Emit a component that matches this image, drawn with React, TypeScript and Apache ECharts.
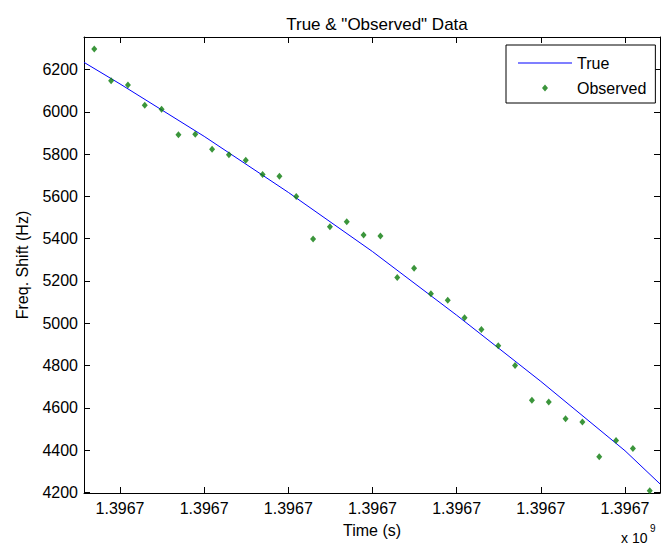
import React, { useEffect, useRef } from "react";
import * as echarts from "echarts";

const FONT = "'Liberation Sans', Arial, Helvetica, sans-serif";

const titleText = 'True & "Observed" Data';
const xName = "Time (s)";
const yName = "Freq. Shift (Hz)";
const seriesNames = ["True", "Observed"];
const exponentBase = "x 10";
const exponentPower = "9";

const xMin = 1396700572;
const xMax = 1396707416;
const xTicks = [1396701000, 1396702000, 1396703000, 1396704000, 1396705000, 1396706000, 1396707000];
const yMin = 4197;
const yMax = 6354;
const yTicks = [4200, 4400, 4600, 4800, 5000, 5200, 5400, 5600, 5800, 6000, 6200];

const trueTimes = [1396700572, 1396701000, 1396702000, 1396703000, 1396704000, 1396705000, 1396706000, 1396707000, 1396707416];
const trueValues = [6234, 6132, 5884, 5619, 5339, 5038, 4725, 4397, 4240];

const obsTimes = [
  1396700694, 1396700894, 1396701094, 1396701294, 1396701494, 1396701694, 1396701894,
  1396702094, 1396702294, 1396702494, 1396702694, 1396702894, 1396703094, 1396703294,
  1396703494, 1396703694, 1396703894, 1396704094, 1396704294, 1396704494, 1396704694,
  1396704894, 1396705094, 1396705294, 1396705494, 1396705694, 1396705894, 1396706094,
  1396706294, 1396706494, 1396706694, 1396706894, 1396707094, 1396707294,
];
const obsValues = [
  6297, 6147, 6127, 6031, 6012, 5892, 5894, 5823, 5797, 5771, 5703, 5695, 5600, 5399,
  5457, 5480, 5417, 5413, 5216, 5260, 5139, 5109, 5026, 4970, 4894, 4800, 4636, 4628,
  4548, 4533, 4369, 4445, 4407, 4208,
];

const AXIS_COLOR = "#000";
const LINE_COLOR = "#0000ff";
const MARK_COLOR = "#0a7a0a";

export default function App() {
  const ref = useRef<HTMLDivElement>(null);
  useEffect(() => {
    if (!ref.current) return;
    const chart = echarts.init(ref.current, null, { renderer: "svg" });
    const fmtX = (v: number) => (v / 1e9).toFixed(4);
    const fmtY = (v: number) => String(v);
    const baseX = {
      type: "value",
      min: xMin,
      max: xMax,
      splitLine: { show: false },
      axisLine: { show: true, onZero: false, lineStyle: { color: AXIS_COLOR, width: 1 } },
      axisTick: { show: true, inside: true, length: 6, customValues: xTicks, lineStyle: { color: AXIS_COLOR } },
    };
    const baseY = {
      type: "value",
      min: yMin,
      max: yMax,
      splitLine: { show: false },
      axisLine: { show: true, onZero: false, lineStyle: { color: AXIS_COLOR, width: 1 } },
      axisTick: { show: true, inside: true, length: 6, customValues: yTicks, lineStyle: { color: AXIS_COLOR } },
    };
    chart.setOption({
      animation: false,
      backgroundColor: "#fff",
      textStyle: { fontFamily: FONT },
      title: {
        text: titleText,
        left: 372,
        top: 11,
        textAlign: "center",
        textStyle: { fontSize: 17, fontWeight: "normal", color: "#000", fontFamily: FONT },
      },
      grid: { left: 84, right: 5, top: 37, bottom: 55, containLabel: false },
      legend: {
        orient: "vertical",
        left: 506,
        top: 45,
        data: [
          {
            name: seriesNames[0],
            icon: "path://M0,3L54,3L54,4L0,4Z",
            itemStyle: { color: LINE_COLOR },
          },
          {
            name: seriesNames[1],
            icon: "path://M27,0L30,3.5L27,7L24,3.5Z M0,3.5L0.01,3.5 M54,3.5L53.99,3.5",
            itemStyle: { color: MARK_COLOR },
          },
        ],
        itemWidth: 54,
        itemHeight: 7,
        itemGap: 7,
        padding: [9, 9, 6, 12],
        backgroundColor: "#fff",
        borderColor: "#000",
        borderWidth: 1,
        borderRadius: 0,
        textStyle: { fontSize: 16, lineHeight: 18, color: "#000", fontFamily: FONT },
      },
      xAxis: [
        {
          ...baseX,
          position: "bottom",
          name: xName,
          nameLocation: "middle",
          nameGap: 29,
          nameTextStyle: { fontSize: 16, color: "#000", fontFamily: FONT },
          axisLabel: { show: true, customValues: xTicks, formatter: fmtX, fontSize: 16, color: "#000", margin: 7, fontFamily: FONT },
        },
        { ...baseX, position: "top", axisLabel: { show: false } },
      ],
      yAxis: [
        {
          ...baseY,
          position: "left",
          name: yName,
          nameLocation: "middle",
          nameRotate: 90,
          nameGap: 54,
          nameTextStyle: { fontSize: 16, color: "#000", fontFamily: FONT },
          axisLabel: { show: true, customValues: yTicks, formatter: fmtY, fontSize: 16, color: "#000", margin: 6, fontFamily: FONT },
        },
        { ...baseY, position: "right", axisLabel: { show: false } },
      ],
      graphic: [
        { type: "text", left: 621, top: 530, style: { text: exponentBase, fontSize: 14, lineHeight: 15, fill: "#000", fontFamily: FONT } },
        { type: "text", left: 650, top: 523, style: { text: exponentPower, fontSize: 10, lineHeight: 11, fill: "#000", fontFamily: FONT } },
      ],
      series: [
        {
          name: seriesNames[0],
          type: "line",
          xAxisIndex: 0,
          yAxisIndex: 0,
          data: trueTimes.map((t, i) => [t, trueValues[i]]),
          symbol: "none",
          smooth: false,
          lineStyle: { color: LINE_COLOR, width: 1 },
          itemStyle: { color: LINE_COLOR },
          z: 2,
        },
        {
          name: seriesNames[1],
          type: "scatter",
          xAxisIndex: 0,
          yAxisIndex: 0,
          data: obsTimes.map((t, i) => [t, obsValues[i]]),
          symbol: "diamond",
          symbolSize: [6, 7],
          itemStyle: { color: MARK_COLOR },
          z: 3,
        },
      ],
    });
    return () => chart.dispose();
  }, []);
  return (
    <div
      ref={ref}
      style={{ position: "fixed", left: 0, top: 0, width: 665, height: 548, background: "#fff" }}
    />
  );
}
